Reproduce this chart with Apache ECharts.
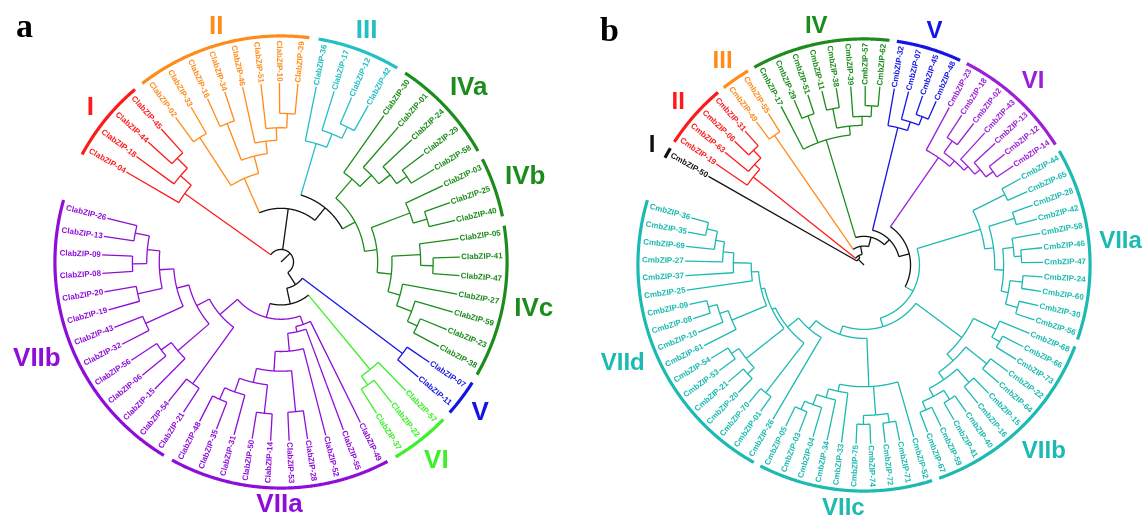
<!DOCTYPE html>
<html>
<head>
<meta charset="utf-8">
<script src="https://cdn.jsdelivr.net/npm/echarts@6/dist/echarts.min.js"></script>
<style>
  html, body { margin: 0; padding: 0; background: #fff; }
  #chart { width: 1142px; height: 518px; }
</style>
</head>
<body>
<div id="chart"></div>
<script>
// Circular cladograms of the bZIP families.
// Node format: [depth, child, child, ...] with depth on a 0-100 scale (tips at 100);
// leaves are gene numbers.

// ---- tree a (ClabZIP) ----
const A_I    = [66, '04', [74, '18', [82, '44', '45']]];
const A_II   = [51, [83, '02', '33'], [61, [83, '16', '34'], [68, '46', [75, '51', [83, '10', '39']]]]];
const A_III  = [69, '36', [77, '17', [84, '12', '42']]];
const A_IVa  = [61, '30', [70, '01', [78, '24', [85, '29', '58']]]];
const A_IVb  = [77, '03', [85, '25', '40']];
const A_IVc  = [62, [78, '05', [85, '41', '47']], [69, '27', [78, '59', [84, '23', '38']]]];
const A_V    = [85, '07', '11'];
const A_VI   = [78, '57', [84, '22', '37']];
const A_VIIa = [37, '49', [40, '55', [50, '52', [61, [84, '28', '53'], [69, [85, '14', '50'], [77, '31', [84, '35', '48']]]]]]];
const A_VIIb = [45, [84, '21', '54'], [53, [76, '15', [83, '06', '56']], [60, [83, '32', '43'], [68, [82, '19', '20'], [75, [83, '08', '09'], [83, '13', '26']]]]]];
const treeA = [7, A_I,
  [30, A_II, [39, A_III, [47, A_IVa, [54, A_IVb, A_IVc]]]],
  [15, A_V, [24, A_VI, [32, A_VIIa, A_VIIb]]]];
const cladeNamesA = ['I', 'II', 'III', 'IVa', 'IVb', 'IVc', 'V', 'VI', 'VIIa', 'VIIb'];
const cladeTreesA = [A_I, A_II, A_III, A_IVa, A_IVb, A_IVc, A_V, A_VI, A_VIIa, A_VIIb];

// ---- tree b (CmbZIP) ----
const B_I    = '50';
const B_II   = [79, '19', [83, '63', [89, '06', '31']]];
const B_III  = [88, '49', '55'];
const B_IV   = [73, '17', [89, '29', '51'], [78, [89, '11', '38'], [83, '39', [89, '57', '62']]]];
const B_V    = [79, '32', [84, '07', [89, '45', '48']]];
const B_VI   = [73, '23', [77, [85, '18', '02'], [80, '43', [84, '13', [89, '12', '14']]]]];
const B_VIIa = [68, [88, '44', '65'], [73, [88, '28', '42'], [78, [84, '58', [88, '46', '47']], [82, [89, '24', '60'], [89, '30', '56']]]]];
const B_VIIb = [68, [82, '68', [87, '66', '73']], [73, [88, '22', '64'], [78, [88, '15', '16'], [83, [89, '40', '41'], [88, '59', '67']]]]];
const B_VIIc = [68, '52', [84, [89, '71', '72'], [89, '74', '75']], [72, '33', [77, '34', [83, '04', [88, '03', '05']]]]];
const B_VIId = [47, '26', [55, [90, '01', '70'], [57, [84, [89, '20', '21'], [89, '53', '54']],
  [59, [80, '61', [85, '10', [90, '08', '09']]], [63, '25', [73, '37', [79, '27', [84, '69', [90, '35', '36']]]]]]]]];
const treeB = [4.5, B_I, [6, B_II, [10.6, B_III, [16, B_IV, [20, B_V, [26, B_VI,
  [31, B_VIIa, [36, B_VIIb, [41, B_VIIc, B_VIId]]]]]]]]];
const cladeNamesB = ['I', 'II', 'III', 'IV', 'V', 'VI', 'VIIa', 'VIIb', 'VIIc', 'VIId'];
const cladeTreesB = [B_I, B_II, B_III, B_IV, B_V, B_VI, B_VIIa, B_VIIb, B_VIIc, B_VIId];

// ---- styling ----
const paletteA = {
  I: '#ff1a1a', II: '#ff8c1a', III: '#22bfc4', IVa: '#1c8c1c', IVb: '#1c8c1c', IVc: '#1c8c1c',
  V: '#1414e6', VI: '#3cf02a', VIIa: '#8e0ed8', VIIb: '#8e0ed8'
};
const paletteB = {
  I: '#111111', II: '#ff1a1a', III: '#ff8c1a', IV: '#1c8c1c', V: '#1414e6', VI: '#9b1fd6',
  VIIa: '#1cbab0', VIIb: '#1cbab0', VIIc: '#1cbab0', VIId: '#1cbab0'
};
const TIP = 100;            // tip depth
const CLADE_R = 126.3;      // radius of the clade bars, in depth units
const LEAF_FONT = 'bold 8px "Liberation Sans"';

function leavesOf(node) {
  if (typeof node === 'string') return [node];
  return node.slice(1).flatMap(leavesOf);
}

// Leaves get consecutive angle slots; internal nodes sit midway between
// their first and last child, with an arc at their own depth.
function layoutTree(root, cladeTrees, cladeNames, palette) {
  const colorOf = {};
  cladeTrees.forEach((t, i) => leavesOf(t).forEach(n => { colorOf[n] = palette[cladeNames[i]]; }));
  const leaves = [], segs = [];
  let slot = 0;
  function walk(node) {
    if (typeof node === 'string') {
      const a = slot++;
      leaves.push({ name: node, angle: a, color: colorOf[node] });
      return { angle: a, depth: TIP, color: colorOf[node] };
    }
    const depth = node[0];
    const kids = node.slice(1).map(walk);
    const a0 = kids[0].angle, a1 = kids[kids.length - 1].angle;
    const color = kids.every(k => k.color === kids[0].color) ? kids[0].color : '#111111';
    kids.forEach(k => segs.push({ kind: 'radial', r0: depth, r1: k.depth, angle: k.angle, color: k.color }));
    segs.push({ kind: 'arc', r: depth, a0: a0, a1: a1, color: color });
    return { angle: (a0 + a1) / 2, depth: depth, color: color };
  }
  const top = walk(root);
  segs.push({ kind: 'radial', r0: 0, r1: top.depth, angle: top.angle, color: top.color });
  const slotOf = {};
  leaves.forEach(l => { slotOf[l.name] = l.angle; });
  const clades = cladeTrees.map((t, i) => {
    const ls = leavesOf(t);
    return { label: cladeNames[i], first: slotOf[ls[0]], last: slotOf[ls[ls.length - 1]], color: palette[cladeNames[i]] };
  });
  return { leaves, segs, clades };
}

const layA = layoutTree(treeA, cladeTreesA, cladeNamesA, paletteA);
const layB = layoutTree(treeB, cladeTreesB, cladeNamesB, paletteB);

const measureCtx = document.createElement('canvas').getContext('2d');
function textWidth(txt, font) { measureCtx.font = font; return measureCtx.measureText(txt).width; }

function screenAngle(api, a) {
  const c = api.coord([0, a]), p = api.coord([TIP, a]);
  return { th: Math.atan2(c[1] - p[1], p[0] - c[0]), pxPerUnit: Math.hypot(p[0] - c[0], p[1] - c[1]) / TIP };
}

function arcPoints(api, r, a0, a1) {
  const n = Math.max(2, Math.ceil(Math.abs(a1 - a0) / 0.05) + 1);
  const pts = [];
  for (let i = 0; i < n; i++) pts.push(api.coord([r, a0 + (a1 - a0) * i / (n - 1)]));
  return pts;
}

function branchSeries(lay, polarIndex) {
  return {
    type: 'custom', coordinateSystem: 'polar', polarIndex: polarIndex, silent: true,
    data: lay.segs.map((_, i) => [i]),
    renderItem: function (params, api) {
      const s = lay.segs[params.dataIndex];
      if (s.kind === 'radial') {
        const p0 = api.coord([s.r0, s.angle]), p1 = api.coord([s.r1, s.angle]);
        return { type: 'line', shape: { x1: p0[0], y1: p0[1], x2: p1[0], y2: p1[1] },
          style: { stroke: s.color, lineWidth: 1.3 } };
      }
      return { type: 'polyline', shape: { points: arcPoints(api, s.r, s.a0, s.a1) },
        style: { stroke: s.color, lineWidth: 1.3, fill: null } };
    }
  };
}

function leafSeries(lay, polarIndex, prefix) {
  return {
    type: 'custom', coordinateSystem: 'polar', polarIndex: polarIndex, silent: true,
    data: lay.leaves.map((_, i) => [i]),
    renderItem: function (params, api) {
      const l = lay.leaves[params.dataIndex];
      const g = screenAngle(api, l.angle);
      const p = api.coord([TIP + 0.7, l.angle]);
      const right = Math.cos(g.th) > 0;
      return { type: 'text', x: p[0], y: p[1], rotation: right ? g.th : g.th - Math.PI,
        style: { text: prefix + l.name, fill: l.color, font: LEAF_FONT,
          align: right ? 'left' : 'right', verticalAlign: 'middle' } };
    }
  };
}

// Clade bars just outside the labels, with the clade name beyond each bar.
function cladeSeries(lay, polarIndex, fontSize) {
  const MARGIN = 0.3;
  const font = 'bold ' + fontSize + 'px "Liberation Sans"';
  return {
    type: 'custom', coordinateSystem: 'polar', polarIndex: polarIndex, silent: true,
    data: lay.clades.map((_, i) => [i]),
    renderItem: function (params, api) {
      const c = lay.clades[params.dataIndex];
      const bar = { type: 'polyline', shape: { points: arcPoints(api, CLADE_R, c.first - MARGIN, c.last + MARGIN) },
        style: { stroke: c.color, lineWidth: 3.2, fill: null } };
      const mid = (c.first + c.last) / 2;
      const g = screenAngle(api, mid);
      const w = textWidth(c.label, font), h = fontSize * 0.72;
      const cs = Math.abs(Math.cos(g.th)), sn = Math.abs(Math.sin(g.th));
      const ext = cs * w / 2 + sn * h / 2;
      const pad = 9 * cs + 6 * sn;
      const p = api.coord([CLADE_R + (pad + ext) / g.pxPerUnit, mid]);
      const txt = { type: 'text', x: p[0], y: p[1] + 1,
        style: { text: c.label, fill: c.color, font: font, align: 'center', verticalAlign: 'middle' } };
      return { type: 'group', children: [bar, txt] };
    }
  };
}

function hiddenAxis(extra) {
  return Object.assign({ type: 'value', show: false, axisLine: { show: false }, axisTick: { show: false },
    axisLabel: { show: false }, splitLine: { show: false }, splitArea: { show: false } }, extra);
}

const SLOT_DEG_A = 5.93, SLOT_DEG_B = 4.67;
const chart = echarts.init(document.getElementById('chart'));
chart.setOption({
  animation: false,
  backgroundColor: '#ffffff',
  title: [
    { text: 'a', left: 11, top: 6, textStyle: { fontFamily: 'Liberation Serif', fontWeight: 'bold', fontSize: 34, color: '#000' } },
    { text: 'b', left: 595, top: 10, textStyle: { fontFamily: 'Liberation Serif', fontWeight: 'bold', fontSize: 34, color: '#000' } }
  ],
  polar: [
    { center: [281, 262], radius: [0, 268.5] },
    { center: [864, 265], radius: [0, 268.5] }
  ],
  angleAxis: [
    hiddenAxis({ polarIndex: 0, min: 0, max: 360 / SLOT_DEG_A, startAngle: 149.8, clockwise: true }),
    hiddenAxis({ polarIndex: 1, min: 0, max: 360 / SLOT_DEG_B, startAngle: 150.3, clockwise: true })
  ],
  radiusAxis: [
    hiddenAxis({ polarIndex: 0, min: 0, max: 150 }),
    hiddenAxis({ polarIndex: 1, min: 0, max: 150 })
  ],
  series: [
    branchSeries(layA, 0), leafSeries(layA, 0, 'ClabZIP-'), cladeSeries(layA, 0, 26),
    branchSeries(layB, 1), leafSeries(layB, 1, 'CmbZIP-'), cladeSeries(layB, 1, 24)
  ]
});
</script>
</body>
</html>
